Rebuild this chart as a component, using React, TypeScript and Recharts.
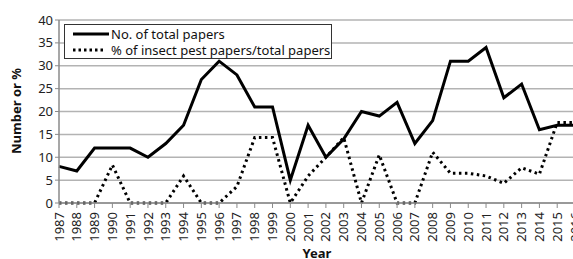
import React from 'react';
import { LineChart, Line, XAxis, YAxis, CartesianGrid } from 'recharts';

const years = ['1987','1988','1989','1990','1991','1992','1993','1994','1995','1996','1997','1998','1999','2000','2001','2002','2003','2004','2005','2006','2007','2008','2009','2010','2011','2012','2013','2014','2015','2016'];
const totalPapers = [8,7,12,12,12,10,13,17,27,31,28,21,21,5,17,10,14,20,19,22,13,18,31,31,34,23,26,16,17,17];
const pestPct = [0,0,0,8.3,0,0,0,5.9,0,0,3.6,14.3,14.3,0,5.9,10,14.3,0,10.5,0,0,11.1,6.5,6.5,5.9,4.3,7.7,6.3,17.6,17.6];
const yTicks = [0,5,10,15,20,25,30,35,40];
const seriesNames = ['No. of total papers', '% of insect pest papers/total papers'];

const data = years.map((y, i) => ({ year: y, total: totalPapers[i], pct: pestPct[i] }));

const FONT = '"Noto Sans", "DejaVu Sans", sans-serif';

const XTick = (props: any) => {
  const { x, y, payload } = props;
  return (
    <g transform={`translate(${x},${y})`}>
      <text transform="rotate(-90)" x={-2} y={0} dy="0.35em" textAnchor="end" fontSize={13} fill="#222" fontFamily={FONT}>
        {payload.value}
      </text>
    </g>
  );
};

const LegendBox = () => (
  <div style={{ position: 'absolute', left: 64, top: 24, border: '1px solid #333', background: '#fff', width: 266, height: 33, fontFamily: FONT, fontSize: 13, color: '#111', lineHeight: '16px' }}>
    <div style={{ display: 'flex', alignItems: 'center', height: 16, marginTop: 1 }}>
      <svg width={46} height={16}><line x1={8} y1={8} x2={44} y2={8} stroke="#000" strokeWidth={3} /></svg>
      <span>{seriesNames[0]}</span>
    </div>
    <div style={{ display: 'flex', alignItems: 'center', height: 16 }}>
      <svg width={46} height={16}><line x1={8} y1={8} x2={38} y2={8} stroke="#000" strokeWidth={3} strokeDasharray="2.5 3" /></svg>
      <span>{seriesNames[1]}</span>
    </div>
  </div>
);

export default function App() {
  return (
    <div style={{ position: 'absolute', left: 0, top: 0, width: 573, height: 259, overflow: 'hidden', background: '#fff' }}>
      <LineChart width={585} height={259} data={data} margin={{ top: 20, right: 10, left: 29, bottom: 0 }}>
        <CartesianGrid vertical={false} stroke="#b3b3b3" strokeWidth={1.5} />
        <XAxis
          dataKey="year"
          interval={0}
          height={56}
          tick={<XTick />}
          tickSize={5}
          tickLine={{ stroke: '#8a8a8a' }}
          axisLine={{ stroke: '#8a8a8a', strokeWidth: 1.5 }}
        />
        <YAxis
          domain={[0, 40]}
          ticks={yTicks}
          interval={0}
          width={30}
          tickSize={4}
          tickLine={{ stroke: '#8a8a8a' }}
          axisLine={{ stroke: '#8a8a8a', strokeWidth: 1.5 }}
          tick={{ fontSize: 13, fill: '#222', fontFamily: FONT }}
        />
        <Line name={seriesNames[0]} dataKey="total" stroke="#000" strokeWidth={3} dot={false} isAnimationActive={false} />
        <Line name={seriesNames[1]} dataKey="pct" stroke="#000" strokeWidth={3} strokeDasharray="2.5 3.5" dot={false} isAnimationActive={false} />
        <text x={17} y={111} transform="rotate(-90 17 111)" textAnchor="middle" dominantBaseline="middle" fontSize={13} fontWeight="bold" fill="#111" fontFamily={FONT}>Number or %</text>
        <text x={317} y={254} textAnchor="middle" dominantBaseline="middle" fontSize={13} fontWeight="bold" fill="#111" fontFamily={FONT}>Year</text>
      </LineChart>
      <LegendBox />
    </div>
  );
}
